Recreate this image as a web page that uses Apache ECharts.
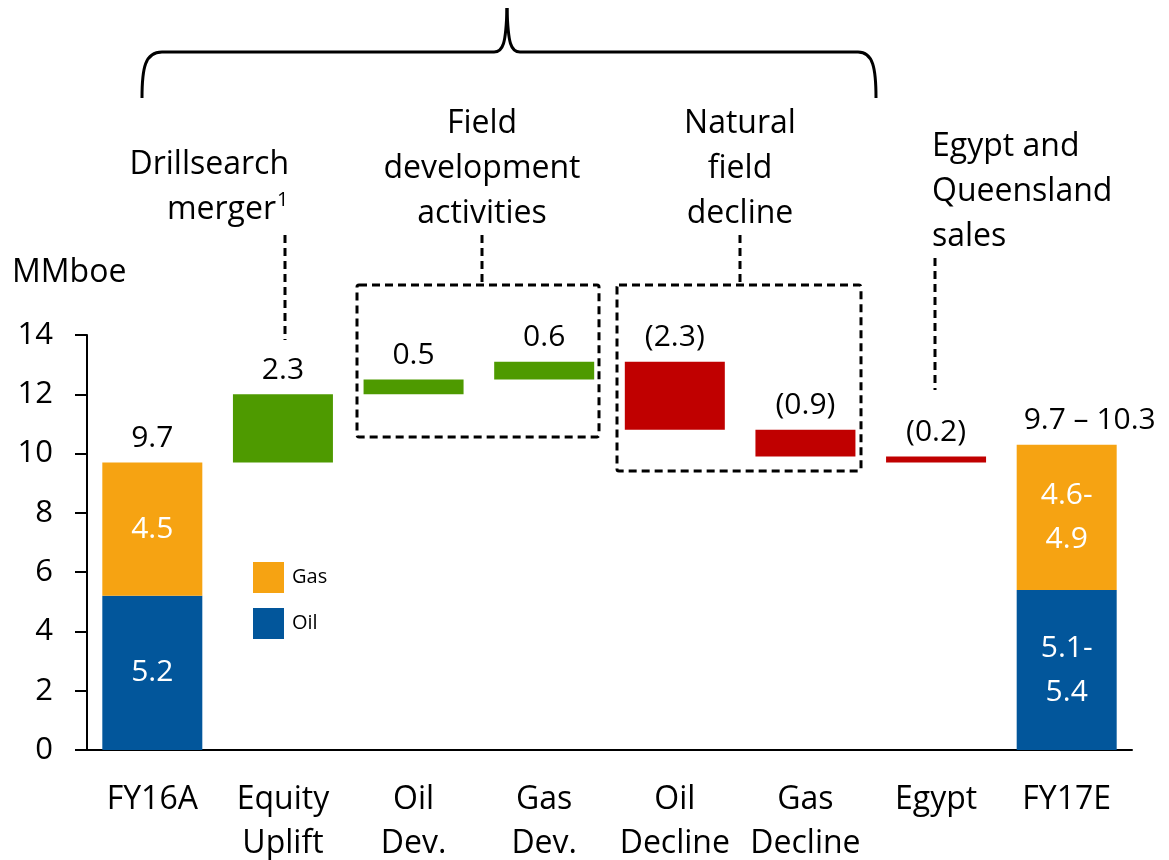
<!DOCTYPE html>
<html>
<head>
<meta charset="utf-8">
<script src="https://cdn.jsdelivr.net/npm/echarts@6/dist/echarts.min.js"></script>
<style>
  html, body { margin: 0; padding: 0; background: #fff; }
  #chart { width: 1169px; height: 860px; }
</style>
</head>
<body>
<div id="chart"></div>
<script>
var categories = ['FY16A', 'Equity\nUplift', 'Oil\nDev.', 'Gas\nDev.', 'Oil\nDecline', 'Gas\nDecline', 'Egypt', 'FY17E'];

// start / end split by product
var oilValues = [5.2, null, null, null, null, null, null, 5.4];
var gasValues = [4.5, null, null, null, null, null, null, 4.9];
var oilLabels = ['5.2', '', '', '', '', '', '', '5.1-\n5.4'];
var gasLabels = ['4.5', '', '', '', '', '', '', '4.6-\n4.9'];

// movements between FY16A and FY17E
var deltas = [null, 2.3, 0.5, 0.6, -2.3, -0.9, -0.2, null];
var deltaLabels = ['', '2.3', '0.5', '0.6', '(2.3)', '(0.9)', '(0.2)', ''];

var totalValues = [9.7, null, null, null, null, null, null, 10.3];
var totalLabels = ['9.7', '', '', '', '', '', '', '9.7 \u2013 10.3'];

var FONT = 'Open Sans';
var FS = 30;      // numbers
var FS_TEXT = 32; // words
var GREEN = '#4e9a00';
var RED = '#c00000';
var BLUE = '#02569b';
var ORANGE = '#f6a312';

// waterfall: invisible base + up / down pieces
var base = [];
var up = [];
var down = [];
var running = oilValues[0] + gasValues[0];
deltas.forEach(function (d, i) {
  if (d === null) {
    base.push(0);
    up.push(null);
    down.push(null);
    return;
  }
  var next = Math.round((running + d) * 10) / 10;
  if (d >= 0) {
    base.push(running);
    up.push(d);
    down.push(null);
  } else {
    base.push(next);
    up.push(null);
    down.push(-d);
  }
  running = next;
});

var myChart = echarts.init(document.getElementById('chart'));

var textStyle = { fontFamily: FONT, fontSize: FS_TEXT, fill: '#000' };
var stroke = { fill: 'none', stroke: '#000', lineWidth: 3 };

function annoText(x, y, text, align) {
  return {
    type: 'text',
    x: x,
    y: y,
    style: Object.assign({}, textStyle, {
      text: text,
      align: align || 'center',
      verticalAlign: 'middle',
      lineHeight: 45
    })
  };
}

function dashLine(x, y1, y2) {
  return {
    type: 'line',
    shape: { x1: x, y1: y1, x2: x, y2: y2 },
    style: { stroke: '#000', lineWidth: 3, lineDash: [8, 5] }
  };
}

function dashBox(x, y, w, h) {
  return {
    type: 'rect',
    shape: { x: x, y: y, width: w, height: h, r: 2 },
    style: { fill: 'none', stroke: '#000', lineWidth: 3, lineDash: [8, 5] }
  };
}

function curve(x1, y1, cx1, cy1, cx2, cy2, x2, y2) {
  return {
    type: 'bezierCurve',
    shape: { x1: x1, y1: y1, cpx1: cx1, cpy1: cy1, cpx2: cx2, cpy2: cy2, x2: x2, y2: y2 },
    style: stroke
  };
}

function hline(x1, x2, y) {
  return { type: 'line', shape: { x1: x1, y1: y, x2: x2, y2: y }, style: stroke };
}

function topLabel(list) {
  return {
    show: true,
    position: 'top',
    distance: 9,
    color: '#000',
    fontFamily: FONT,
    fontSize: FS,
    formatter: function (p) { return list[p.dataIndex]; }
  };
}

function insideLabel(list) {
  return {
    show: true,
    position: 'inside',
    color: '#fff',
    fontFamily: FONT,
    fontSize: FS,
    lineHeight: 44,
    formatter: function (p) { return list[p.dataIndex]; }
  };
}

var option = {
  animation: false,
  backgroundColor: '#fff',
  textStyle: { fontFamily: FONT },
  grid: { left: 87, right: 37, top: 335, bottom: 110, outerBoundsMode: 'none', containLabel: false },
  legend: {
    data: ['Gas', 'Oil'],
    orient: 'vertical',
    left: 248,
    top: 557,
    itemWidth: 31,
    itemHeight: 31,
    itemGap: 15,
    icon: 'rect',
    textStyle: { fontFamily: FONT, fontSize: 20, color: '#000', padding: [0, 0, 0, 3] }
  },
  xAxis: {
    type: 'category',
    data: categories,
    axisLine: { lineStyle: { color: '#000', width: 2 } },
    axisTick: { length: 12, lineStyle: { color: '#000', width: 2 } },
    axisLabel: {
      color: '#000',
      fontFamily: FONT,
      fontSize: FS_TEXT,
      lineHeight: 44,
      margin: 28,
      interval: 0
    }
  },
  yAxis: {
    type: 'value',
    min: 0,
    max: 14,
    interval: 2,
    splitLine: { show: false },
    axisLine: { show: true, lineStyle: { color: '#000', width: 2 } },
    axisTick: { show: true, length: 12, lineStyle: { color: '#000', width: 2 } },
    axisLabel: { color: '#000', fontFamily: FONT, fontSize: 31, margin: 34 }
  },
  series: [
    {
      name: 'base',
      type: 'bar',
      stack: 'w',
      barWidth: 100,
      itemStyle: { color: 'transparent' },
      data: base
    },
    {
      name: 'Oil',
      type: 'bar',
      stack: 'w',
      barWidth: 100,
      itemStyle: { color: BLUE },
      label: insideLabel(oilLabels),
      data: oilValues
    },
    {
      name: 'Gas',
      type: 'bar',
      stack: 'w',
      barWidth: 100,
      itemStyle: { color: ORANGE },
      label: insideLabel(gasLabels),
      data: gasValues
    },
    {
      name: 'up',
      type: 'bar',
      stack: 'w',
      barWidth: 100,
      itemStyle: { color: GREEN },
      label: topLabel(deltaLabels),
      data: up
    },
    {
      name: 'down',
      type: 'bar',
      stack: 'w',
      barWidth: 100,
      itemStyle: { color: RED },
      label: topLabel(deltaLabels),
      data: down
    },
    {
      name: 'total',
      type: 'scatter',
      symbolSize: 0,
      silent: true,
      itemStyle: { opacity: 1 },
      label: topLabel(totalLabels),
      data: totalValues.map(function (v, i) {
        if (i === totalValues.length - 1) {
          return { value: v, label: { offset: [23, 0] } };
        }
        return v;
      })
    }
  ],
  graphic: [
    // brace over the Drillsearch / field activity items
    curve(142, 98, 142, 68, 145, 52, 162, 52),
    hline(162, 494, 52),
    curve(494, 52, 503, 52, 506, 44, 507, 8),
    curve(507, 8, 508, 44, 511, 52, 520, 52),
    hline(520, 858, 52),
    curve(858, 52, 873, 52, 876, 68, 876, 98),
    annoText(12, 273, 'MMboe', 'left'),
    annoText(289, 165, 'Drillsearch', 'right'),
    annoText(276, 210, 'merger', 'right'),
    {
      type: 'text',
      x: 277,
      y: 200,
      style: { fontFamily: FONT, fontSize: 20, fill: '#000', text: '1', align: 'left', verticalAlign: 'middle' }
    },
    dashLine(285, 235, 340),
    annoText(482, 169, 'Field\ndevelopment\nactivities'),
    dashLine(482, 235, 284),
    dashBox(357, 285, 242, 152),
    annoText(740, 169, 'Natural\nfield\ndecline'),
    dashLine(740, 235, 284),
    dashBox(617, 285, 244, 186),
    annoText(932, 192, 'Egypt and\nQueensland\nsales', 'left'),
    dashLine(935, 258, 390)
  ]
};

myChart.setOption(option);
</script>
</body>
</html>
